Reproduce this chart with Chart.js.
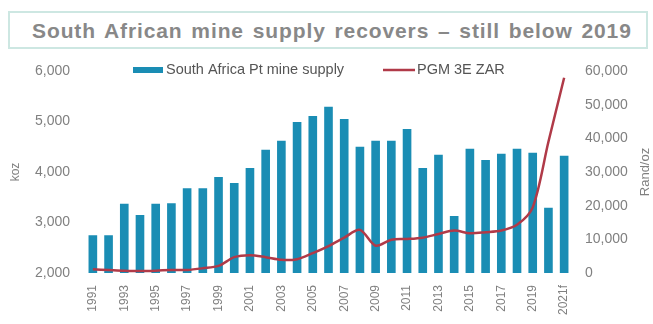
<!DOCTYPE html>
<html>
<head>
<meta charset="utf-8">
<script src="https://cdn.jsdelivr.net/npm/chart.js@4"></script>
<style>
  body { margin: 0; width: 653px; height: 324px; background: #fff; position: relative; overflow: hidden; }
  .title-box {
    position: absolute; left: 8px; top: 11px; width: 614px; height: 34px;
    border: 2px solid #cde7e2;
    font: bold 21px "Liberation Sans", Arial, sans-serif; color: #888;
    letter-spacing: 0.9px; word-spacing: 2px;
    line-height: 36px; padding-left: 22px; box-sizing: content-box; white-space: nowrap;
  }
  #chart { position: absolute; left: 0; top: 50px; }
</style>
</head>
<body>
<div class="title-box">South African mine supply recovers – still below 2019</div>
<canvas id="chart" width="653" height="274"></canvas>
<script>
// years on the x axis, 2021 is a forecast
const years = ['1991', '1992', '1993', '1994', '1995', '1996', '1997', '1998', '1999', '2000',
  '2001', '2002', '2003', '2004', '2005', '2006', '2007', '2008', '2009', '2010',
  '2011', '2012', '2013', '2014', '2015', '2016', '2017', '2018', '2019', '2020', '2021f'];

// South Africa Pt mine supply, koz
const ptSupply = [2750, 2750, 3370, 3150, 3370, 3380, 3680, 3680, 3900, 3780,
  4080, 4440, 4620, 4990, 5110, 5290, 5050, 4500, 4620, 4620,
  4850, 4080, 4340, 3130, 4460, 4240, 4360, 4460, 4380, 3290, 4320];

// PGM 3E basket price, Rand/oz
const pgmZar = [1100, 900, 700, 600, 700, 900, 900, 1400, 2100, 4700,
  5300, 4700, 3900, 4100, 5900, 8000, 10500, 12800, 8100, 9900,
  10100, 10500, 11600, 12600, 11800, 12100, 12600, 14300, 19500, 39000, 58000];

const supplyLabel = 'South Africa Pt mine supply';
const priceLabel = 'PGM 3E ZAR';
const rightAxisTitle = 'Rand/oz';

const BAR_COLOR = '#1a8db4';
const LINE_COLOR = '#b03a48';
const TICK_COLOR = '#808080';
const FONT = '"Liberation Sans", Arial, sans-serif';

// legend row and right-hand axis title drawn straight on the canvas
const extras = {
  id: 'extras',
  afterDraw(chart) {
    const ctx = chart.ctx;
    const ds = chart.data.datasets;
    ctx.save();
    ctx.font = '14.5px ' + FONT;
    ctx.textBaseline = 'middle';

    const y = 20;
    ctx.fillStyle = ds[0].backgroundColor;
    ctx.fillRect(133, y - 3, 30, 6);
    ctx.fillStyle = '#555';
    ctx.fillText(ds[0].label, 166, y);

    ctx.strokeStyle = ds[1].borderColor;
    ctx.lineWidth = 2.5;
    ctx.beginPath();
    ctx.moveTo(383, y);
    ctx.lineTo(415, y);
    ctx.stroke();
    ctx.fillText(ds[1].label, 417, y);

    const area = chart.chartArea;
    ctx.translate(645, (area.top + area.bottom) / 2);
    ctx.rotate(-Math.PI / 2);
    ctx.textAlign = 'center';
    ctx.font = '13px ' + FONT;
    ctx.fillStyle = TICK_COLOR;
    ctx.fillText(rightAxisTitle, 0, 0);
    ctx.restore();
  }
};

const ctx = document.getElementById('chart').getContext('2d');
new Chart(ctx, {
  type: 'bar',
  data: {
    labels: years,
    datasets: [
      {
        type: 'bar',
        label: supplyLabel,
        data: ptSupply,
        yAxisID: 'y',
        backgroundColor: BAR_COLOR,
        barPercentage: 0.55,
        categoryPercentage: 1,
        order: 1
      },
      {
        type: 'line',
        label: priceLabel,
        data: pgmZar,
        yAxisID: 'y1',
        borderColor: LINE_COLOR,
        backgroundColor: LINE_COLOR,
        borderWidth: 2.5,
        pointRadius: 0,
        tension: 0.3,
        fill: false,
        order: 0
      }
    ]
  },
  options: {
    responsive: false,
    animation: false,
    layout: { padding: { top: 21, left: 0, right: 0, bottom: 0 } },
    plugins: {
      legend: { display: false },
      tooltip: { enabled: false }
    },
    scales: {
      x: {
        grid: { display: false },
        border: { display: false },
        ticks: {
          color: TICK_COLOR,
          font: { family: FONT, size: 12 },
          maxRotation: 90,
          minRotation: 90,
          autoSkip: false,
          padding: 4,
          callback: function(value, index) {
            return index % 2 === 0 ? this.getLabelForValue(value) : '';
          }
        },
        afterFit(scale) { scale.height = 51; }
      },
      y: {
        position: 'left',
        min: 2000,
        max: 6000,
        grid: { display: false },
        border: { display: false },
        ticks: {
          stepSize: 1000,
          color: TICK_COLOR,
          font: { family: FONT, size: 14 },
          padding: 7,
          callback: v => v.toLocaleString('en-US')
        },
        title: {
          display: true,
          text: 'koz',
          color: TICK_COLOR,
          font: { family: FONT, size: 12 },
          padding: { top: 8, bottom: 0 }
        },
        afterFit(scale) { scale.width = 85; }
      },
      y1: {
        position: 'right',
        min: 0,
        max: 60000,
        grid: { display: false },
        border: { display: false },
        ticks: {
          stepSize: 10000,
          color: TICK_COLOR,
          font: { family: FONT, size: 14 },
          padding: 5,
          callback: v => v.toLocaleString('en-US')
        },
        afterFit(scale) { scale.width = 81; }
      }
    }
  },
  plugins: [extras]
});
</script>
</body>
</html>
